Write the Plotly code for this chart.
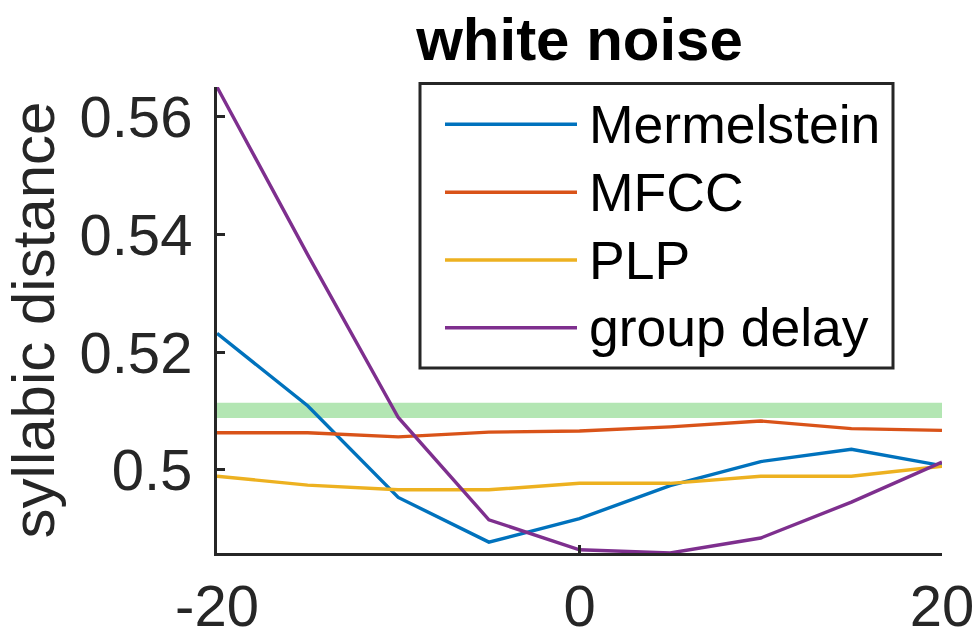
import plotly.graph_objects as go

# ---- data ----
snr = [-20, -15, -10, -5, 0, 5, 10, 15, 20]
series_names = ["Mermelstein", "MFCC", "PLP", "group delay"]
mermelstein = [0.5232, 0.5109, 0.4953, 0.4877, 0.4917, 0.4973, 0.5014, 0.5035, 0.5007]
mfcc = [0.5063, 0.5063, 0.5056, 0.5064, 0.5066, 0.5073, 0.5083, 0.5070, 0.5067]
plp = [0.4989, 0.4974, 0.4966, 0.4966, 0.4977, 0.4977, 0.4989, 0.4989, 0.5006]
group_delay = [0.5651, 0.5366, 0.5089, 0.4915, 0.4864, 0.48585, 0.4884, 0.4945, 0.5013]
band_x = [-20, 20]
band_low = [0.5088, 0.5088]
band_high = [0.5114, 0.5114]
x_ticks = [-20, 0, 20]
y_ticks = [0.5, 0.52, 0.54, 0.56]
y_ticklabels = ["0.5", "0.52", "0.54", "0.56"]

colors = ["#0072BD", "#D95319", "#EDB120", "#7E2F8E"]
band_color = "#B3E6B3"
axis_color = "#262626"
FONT = "Liberation Sans, Arial, Helvetica, sans-serif"

W, H = 977, 639
L, R, T, B = 217, 35, 87, 86
PW, PH = W - L - R, H - T - B


def pxx(p):
    return (p - L) / PW


def pxy(p):
    return (H - B - p) / PH


fig = go.Figure()
# green band
fig.add_trace(go.Scatter(x=band_x, y=band_low, mode="lines", line=dict(width=0, color=band_color),
                         hoverinfo="skip", showlegend=False))
fig.add_trace(go.Scatter(x=band_x, y=band_high, mode="lines", line=dict(width=0, color=band_color),
                         fill="tonexty", fillcolor=band_color, hoverinfo="skip", showlegend=False))

all_series = [mermelstein, mfcc, plp, group_delay]
for name, ys, c in zip(series_names, all_series, colors):
    fig.add_trace(go.Scatter(x=snr, y=ys, mode="lines", name=name,
                             line=dict(color=c, width=3.4), showlegend=False))

ymin = min(min(s) for s in all_series)
ymax = max(max(s) for s in all_series)

fig.update_layout(
    width=W, height=H,
    margin=dict(l=L, r=R, t=T, b=B),
    plot_bgcolor="white", paper_bgcolor="white",
    font=dict(family=FONT, color=axis_color),
    showlegend=False,
    title=dict(text="<b>white noise</b>", font=dict(size=60, color="#000000", family=FONT),
               x=0.5, xref="paper", xanchor="center",
               y=1 - 39 / H, yref="container", yanchor="middle"),
)
fig.update_xaxes(range=[-20, 20], tickvals=x_ticks, ticktext=[str(v) for v in x_ticks],
                 ticks="inside", ticklen=8, tickwidth=2.5, tickcolor=axis_color,
                 showline=True, linewidth=3, linecolor=axis_color,
                 showgrid=False, zeroline=False, automargin=False,
                 tickfont=dict(size=58, color=axis_color), ticklabelstandoff=0)
fig.update_yaxes(range=[ymin, ymax], tickvals=y_ticks, ticktext=y_ticklabels,
                 ticks="inside", ticklen=8, tickwidth=2.5, tickcolor=axis_color,
                 showline=True, linewidth=3, linecolor=axis_color,
                 showgrid=False, zeroline=False, automargin=False,
                 tickfont=dict(size=58, color=axis_color), ticklabelstandoff=10,
                 title=dict(text="syllabic distance", font=dict(size=60, color=axis_color),
                            standoff=8))

# legend drawn manually (long line samples as in the reference)
leg_x0, leg_x1, leg_y0, leg_y1 = 420, 893, 83.5, 368
fig.add_shape(type="rect", xref="paper", yref="paper",
              x0=pxx(leg_x0), x1=pxx(leg_x1), y0=pxy(leg_y1), y1=pxy(leg_y0),
              line=dict(color=axis_color, width=3), fillcolor="white", layer="above")
row_y = [124.3, 192.3, 260.0, 327.7]
for name, c, ry in zip(series_names, colors, row_y):
    fig.add_shape(type="line", xref="paper", yref="paper",
                  x0=pxx(445), x1=pxx(577), y0=pxy(ry), y1=pxy(ry),
                  line=dict(color=c, width=3.4), layer="above")
    fig.add_annotation(xref="paper", yref="paper", x=pxx(587), y=pxy(ry),
                       text=name, showarrow=False, xanchor="left", yanchor="middle",
                       font=dict(size=53.5, color="#000000", family=FONT))

fig.write_html("out.html")
